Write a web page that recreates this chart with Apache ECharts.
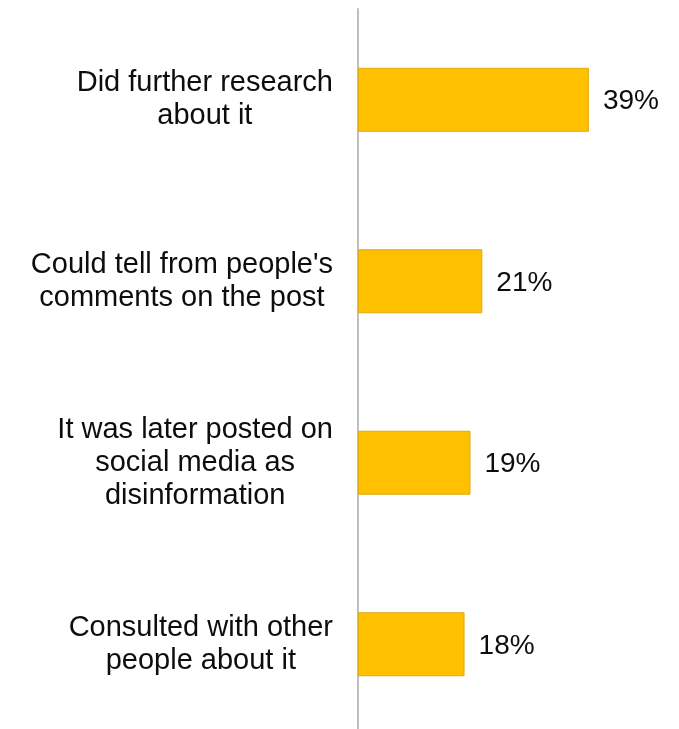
<!DOCTYPE html>
<html>
<head>
<meta charset="utf-8">
<script src="https://cdn.jsdelivr.net/npm/echarts@6/dist/echarts.min.js"></script>
<style>html,body{margin:0;padding:0;background:#fff;overflow:hidden;}#c{width:679px;height:745px;}</style>
</head>
<body>
<div id="c"></div>
<script>
const categories = [
  "Did further research\nabout it",
  "Could tell from people's\ncomments on the post",
  "It was later posted on\nsocial media as\ndisinformation",
  "Consulted with other\npeople about it"
];
const values = [39, 21, 19, 18];

const FONT = 'Liberation Sans, Arial, sans-serif';
const chart = echarts.init(document.getElementById('c'), null, {renderer: 'canvas'});
chart.setOption({
  animation: false,
  backgroundColor: '#ffffff',
  grid: {left: 358, top: 9, width: 296, height: 726, containLabel: false},
  xAxis: {type: 'value', min: 0, max: 50, show: false},
  yAxis: {
    type: 'category', data: categories, inverse: true,
    axisLine: {show: true, lineStyle: {color: '#bfbfbf', width: 2}},
    axisTick: {show: false},
    axisLabel: {
      margin: 25, align: 'right',
      formatter: function (v) { return v.split('\n').map(function (l) { return '{c|' + l + '}'; }).join('\n'); },
      rich: {c: {align: 'center', fontFamily: FONT, fontSize: 29, lineHeight: 33, color: '#0d0d0d'}}
    }
  },
  series: [{
    type: 'bar', data: values, barWidth: 64,
    itemStyle: {color: '#FFC000', borderColor: '#E0AA10', borderWidth: 1},
    label: {
      show: true, position: 'right', distance: 14, formatter: '{c}%',
      fontFamily: FONT, fontSize: 28, color: '#0d0d0d', offset: [0, 2]
    }
  }]
});
</script>
</body>
</html>
